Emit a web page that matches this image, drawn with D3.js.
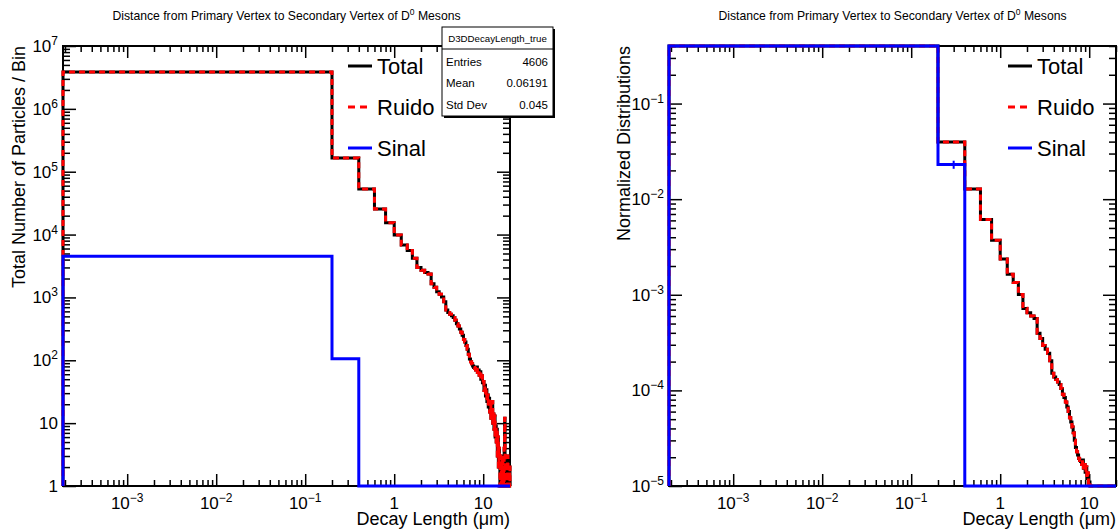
<!DOCTYPE html>
<html lang="en">
<head>
<meta charset="UTF-8">
<title>D0 Decay Length</title>
<script src="https://d3js.org/d3.v7.min.js"></script>
<style>
  body { margin: 0; background: #fff; }
  svg { display: block; font-family: "Liberation Sans", Arial, Helvetica, sans-serif; }
</style>
</head>
<body>
<script>
// histogram: 100 bins of 0.2 um between 0 and 20
const binWidth = 0.2;
const totalCounts = [
  3855000, 165000, 53100, 25500, 15450, 9840, 6820, 5600, 4200, 3000,
  2700, 2500, 2350, 1650, 1450, 1230, 1120, 1020, 850, 630,
  575, 540, 510, 480, 435, 380, 350, 315, 280, 250,
  215, 195, 172, 150, 125, 105, 95, 88, 81, 77,
  75, 70, 78, 64, 70, 58, 66, 50, 57, 44,
  46, 33, 40, 27, 34, 22, 28, 18, 25, 15,
  20, 12, 17, 22, 10, 14, 8, 13, 6, 9,
  5, 8, 3, 6, 2, 4, 3, 1, 3, 2,
  1, 2, 3, 1, 2, 1, 4, 12, 3, 2,
  1, 2, 1, 1, 3, 1, 2, 1, 1, 2
];
const signalCounts = [4500, 106]; // every later bin is empty
const legendLabels = ["Total", "Ruido", "Sinal"];
const statsTitle = "D3DDecayLength_true";
const statsRows = [["Entries", "4606"], ["Mean", "0.06191"], ["Std Dev", "0.045"]];
const xDomain = [1.9e-4, 20];
const yDomainCounts = [1, 1e7];
const yDomainNorm = [1e-5, 0.4];

const nBins = totalCounts.length;
const signalFull = totalCounts.map((_, i) => signalCounts[i] || 0);
const noiseCounts = totalCounts.map((v, i) => v - signalFull[i]);
const sum = a => d3.sum(a);

const W = 1118, H = 531;
const svg = d3.select("body").append("svg").attr("width", W).attr("height", H);

const colors = { total: "#000", noise: "#ff0000", signal: "#0000ff" };

function logTicks(domain) {
  const out = [];
  const lo = Math.floor(Math.log10(domain[0])), hi = Math.ceil(Math.log10(domain[1]));
  for (let d = lo; d <= hi; d++) {
    for (let k = 1; k <= 9; k++) {
      const v = k * Math.pow(10, d);
      if (v >= domain[0] * 0.9999 && v <= domain[1] * 1.0001) out.push({ v, major: k === 1 });
    }
  }
  return out;
}

function powLabel(sel, v) {
  const e = Math.round(Math.log10(v));
  if (e === 0) { sel.text("1"); return; }
  if (e === 1) { sel.text("10"); return; }
  sel.append("tspan").text("10");
  sel.append("tspan").attr("dy", -7).attr("font-size", 12).text(e < 0 ? "\u2212" + (-e) : e);
}

function drawPanel(opt) {
  const { x0, x1, y0, y1 } = opt;
  const g = svg.append("g");
  const x = d3.scaleLog().domain(xDomain).range([x0, x1]);
  const y = d3.scaleLog().domain(opt.yDomain).range([y1, y0]);

  const xt = logTicks(xDomain), yt = logTicks(opt.yDomain);
  const xMaj = xt.filter(t => t.major).map(t => t.v), xMin = xt.filter(t => !t.major).map(t => t.v);
  const yMaj = yt.filter(t => t.major).map(t => t.v), yMin = yt.filter(t => !t.major).map(t => t.v);

  const ax = (fn, sc, vals, size, tx, ty) => {
    g.append("g").attr("transform", `translate(${tx},${ty})`)
      .call(fn(sc).tickValues(vals).tickSizeInner(-size).tickSizeOuter(0).tickFormat(""))
      .call(s => s.select(".domain").remove())
      .call(s => s.selectAll("line").attr("stroke-width", 1.5));
  };
  ax(d3.axisBottom, x, xMaj, 12, 0, y1);
  ax(d3.axisBottom, x, xMin, 6, 0, y1);
  ax(d3.axisTop, x, xMaj, 12, 0, y0);
  ax(d3.axisTop, x, xMin, 6, 0, y0);
  ax(d3.axisLeft, y, yMaj, 13, x0, 0);
  ax(d3.axisLeft, y, yMin, 7, x0, 0);
  ax(d3.axisRight, y, yMaj, 13, x1, 0);
  ax(d3.axisRight, y, yMin, 7, x1, 0);

  g.append("rect").attr("x", x0).attr("y", y0).attr("width", x1 - x0).attr("height", y1 - y0)
    .attr("fill", "none").attr("stroke", "#000").attr("stroke-width", 2);

  // tick labels
  xMaj.forEach(v => {
    g.append("text").attr("x", x(v)).attr("y", 509).attr("text-anchor", "middle")
      .attr("font-size", 17).call(s => powLabel(s, v));
  });
  yMaj.forEach(v => {
    g.append("text").attr("x", x0 - 5).attr("y", y(v) + 6).attr("text-anchor", "end")
      .attr("font-size", 17).call(s => powLabel(s, v));
  });

  // histograms
  const clipId = "clip" + opt.id;
  g.append("clipPath").attr("id", clipId).append("rect")
    .attr("x", x0 - 2).attr("y", y0 - 2).attr("width", x1 - x0 + 4).attr("height", y1 - y0 + 4);
  const hg = g.append("g").attr("clip-path", `url(#${clipId})`);
  const [ymin, ymax] = opt.yDomain;
  const cy = v => y(Math.max(ymin, Math.min(ymax, v > 0 ? v : ymin)));
  const histPath = vals => {
    let p = `M${x(xDomain[0])},${y(ymin)}`;
    vals.forEach((v, i) => {
      const lo = Math.max(i * binWidth, xDomain[0]), hi = (i + 1) * binWidth;
      p += `L${x(lo)},${cy(v)}L${x(hi)},${cy(v)}`;
    });
    return p + `L${x(nBins * binWidth)},${y(ymin)}`;
  };
  const series = opt.series;
  hg.append("path").attr("d", histPath(series.total)).attr("fill", "none")
    .attr("stroke", colors.total).attr("stroke-width", 3);
  hg.append("path").attr("d", histPath(series.noise)).attr("fill", "none")
    .attr("stroke", colors.noise).attr("stroke-width", 3).attr("stroke-dasharray", "6,4");
  hg.append("path").attr("d", histPath(series.signal)).attr("fill", "none")
    .attr("stroke", colors.signal).attr("stroke-width", 3);
  if (series.signalErr) {
    series.signal.forEach((v, i) => {
      if (v <= 0) return;
      const xc = x((i + 0.5) * binWidth);
      hg.append("line").attr("x1", xc).attr("x2", xc)
        .attr("y1", cy(v - series.signalErr[i])).attr("y2", cy(v + series.signalErr[i]))
        .attr("stroke", colors.signal).attr("stroke-width", 2);
    });
  }

  // legend
  const lx = opt.legendX;
  const styles = [
    { c: colors.total, dash: null }, { c: colors.noise, dash: "7,5" }, { c: colors.signal, dash: null }
  ];
  legendLabels.forEach((name, i) => {
    const ly = 66 + i * 41;
    g.append("line").attr("x1", lx).attr("x2", lx + 24).attr("y1", ly).attr("y2", ly)
      .attr("stroke", styles[i].c).attr("stroke-width", 3).attr("stroke-dasharray", styles[i].dash);
    g.append("text").attr("x", lx + 29).attr("y", ly + 8).attr("font-size", 22).text(name);
  });

  // titles
  const t = g.append("text").attr("x", (x0 + x1) / 2).attr("y", 20).attr("text-anchor", "middle")
    .attr("font-size", 12.2);
  t.append("tspan").text("Distance from Primary Vertex to Secondary Vertex of D");
  t.append("tspan").attr("dy", -5).attr("font-size", 8.5).text("0");
  t.append("tspan").attr("dy", 5).text(" Mesons");

  g.append("text").attr("transform", `translate(${opt.yTitleX},${y0}) rotate(-90)`)
    .attr("text-anchor", "end").attr("font-size", 18).text(opt.yTitle);
  g.append("text").attr("x", x1).attr("y", 525).attr("text-anchor", "end")
    .attr("font-size", 18).text("Decay Length (\u03bcm)");
}

const totalSum = sum(totalCounts), noiseSum = sum(noiseCounts), signalSum = sum(signalFull);

drawPanel({
  id: "L", x0: 63, x1: 510, y0: 46, y1: 486, yDomain: yDomainCounts,
  series: { total: totalCounts, noise: noiseCounts, signal: signalFull },
  legendX: 348, yTitleX: 25, yTitle: "Total Number of Particles / Bin"
});

drawPanel({
  id: "R", x0: 669, x1: 1116, y0: 46, y1: 486, yDomain: yDomainNorm,
  series: {
    total: totalCounts.map(v => v / totalSum),
    noise: noiseCounts.map(v => v / noiseSum),
    signal: signalFull.map(v => v / signalSum),
    signalErr: signalFull.map(v => Math.sqrt(v) / signalSum)
  },
  legendX: 1008, yTitleX: 630, yTitle: "Normalized Distributions"
});

// stats box
const sb = svg.append("g").attr("transform", "translate(442,27)");
const sbW = 111, sbH = 89;
sb.append("rect").attr("x", 2).attr("y", 2).attr("width", sbW).attr("height", sbH).attr("fill", "#000");
sb.append("rect").attr("width", sbW).attr("height", sbH).attr("fill", "#fff")
  .attr("stroke", "#000").attr("stroke-width", 1);
sb.append("line").attr("x1", 0).attr("x2", sbW).attr("y1", 22).attr("y2", 22).attr("stroke", "#000");
sb.append("text").attr("x", sbW / 2).attr("y", 15).attr("text-anchor", "middle")
  .attr("font-size", 9.7).text(statsTitle);
statsRows.forEach((r, i) => {
  const ry = 38.5 + i * 21.5;
  sb.append("text").attr("x", 4).attr("y", ry).attr("font-size", 11.5).text(r[0]);
  sb.append("text").attr("x", sbW - 5).attr("y", ry).attr("text-anchor", "end")
    .attr("font-size", 11.5).text(r[1]);
});
</script>
</body>
</html>
